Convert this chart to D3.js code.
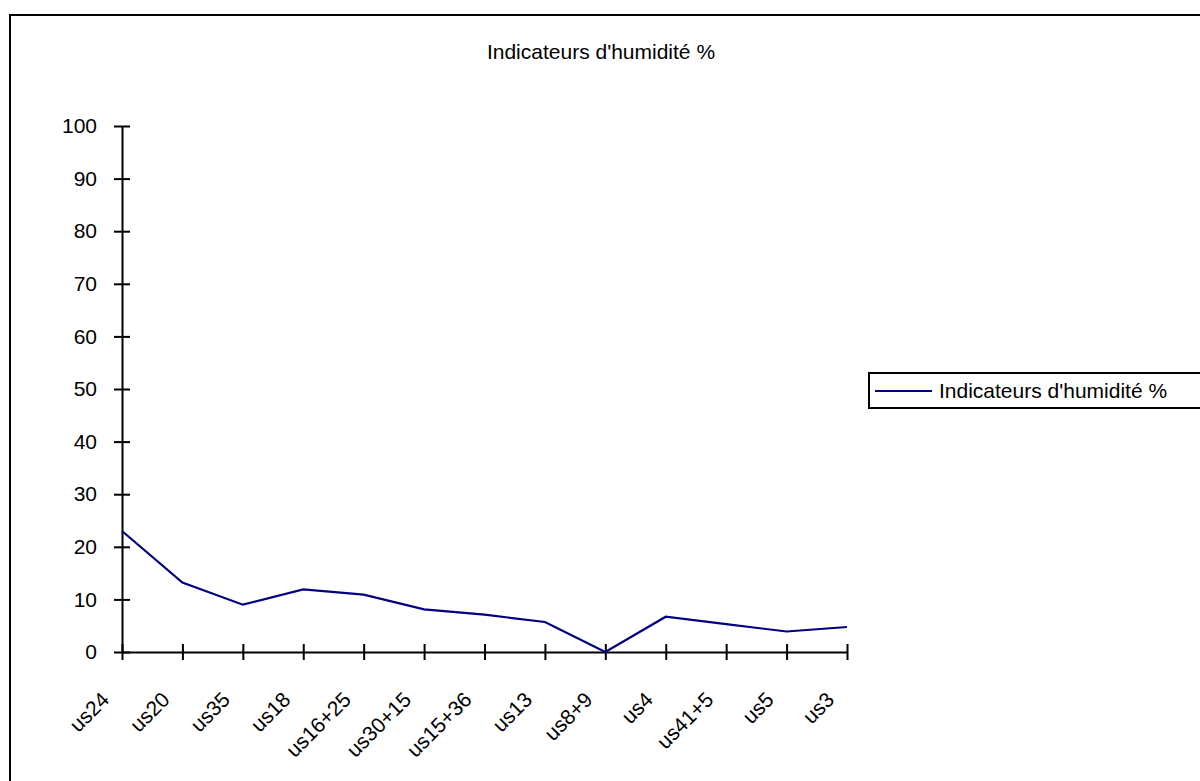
<!DOCTYPE html>
<html>
<head>
<meta charset="utf-8">
<script src="https://cdn.jsdelivr.net/npm/d3@7"></script>
<style>
  body { margin: 0; background: #fff; }
  svg { display: block; font-family: "Liberation Sans", Arial, sans-serif; }
</style>
</head>
<body>
<svg id="chart" width="1200" height="781"></svg>
<script>
const categories = ["us24", "us20", "us35", "us18", "us16+25", "us30+15", "us15+36", "us13", "us8+9", "us4", "us41+5", "us5", "us3"];
const humidity = [23.0, 13.2, 9.0, 11.9, 10.9, 8.1, 7.1, 5.7, 0, 6.7, 5.3, 3.9, 4.75];
const yTicks = [0, 10, 20, 30, 40, 50, 60, 70, 80, 90, 100];
const title = "Indicateurs d'humidité %";

const svg = d3.select("#chart");

// frame (only top and left edges are visible in the picture)
svg.append("rect")
    .attr("x", 10).attr("y", 15)
    .attr("width", 1300).attr("height", 900)
    .attr("fill", "none")
    .attr("stroke", "#000")
    .attr("stroke-width", 2);

const x = d3.scalePoint()
    .domain(categories)
    .range([122, 847]);

const y = d3.scaleLinear()
    .domain([0, 100])
    .range([652, 126]);

svg.append("text")
    .attr("x", 601)
    .attr("y", 59)
    .attr("text-anchor", "middle")
    .style("font-size", "21px")
    .text(title);

// y axis
const yAxis = svg.append("g")
    .attr("transform", "translate(122,0)")
    .call(d3.axisLeft(y).tickValues(yTicks).tickSize(8).tickPadding(17).tickSizeOuter(0));
yAxis.select(".domain").attr("stroke-width", 2);
yAxis.selectAll(".tick line").attr("x1", -8).attr("x2", 8).attr("stroke-width", 2);
yAxis.selectAll(".tick text")
    .style("font-size", "21px")
    .style("font-family", "'Liberation Sans', Arial, sans-serif")
    .attr("fill", "#000");

// x axis
const xAxis = svg.append("g")
    .attr("transform", "translate(0,652)")
    .call(d3.axisBottom(x).tickSize(8).tickSizeOuter(0));
xAxis.select(".domain").attr("stroke-width", 2);
xAxis.selectAll(".tick line").attr("y1", -8).attr("y2", 8).attr("stroke-width", 2);
xAxis.selectAll(".tick text")
    .style("font-size", "21px")
    .style("font-family", "'Liberation Sans', Arial, sans-serif")
    .attr("fill", "#000")
    .attr("text-anchor", "end")
    .attr("y", 0)
    .attr("dy", 0)
    .attr("transform", "translate(-12,49) rotate(-45)");

// series line
const line = d3.line()
    .x((d, i) => x(categories[i]))
    .y(d => y(d));

svg.append("path")
    .datum(humidity)
    .attr("d", line)
    .attr("fill", "none")
    .attr("stroke", "#000080")
    .attr("stroke-width", 2.2);

// legend
const legend = svg.append("g").attr("transform", "translate(869,373)");
legend.append("rect")
    .attr("width", 400).attr("height", 35)
    .attr("fill", "#fff")
    .attr("stroke", "#000")
    .attr("stroke-width", 2);
legend.append("line")
    .attr("x1", 6).attr("x2", 63)
    .attr("y1", 18).attr("y2", 18)
    .attr("stroke", "#000080")
    .attr("stroke-width", 2.2);
legend.append("text")
    .attr("x", 70)
    .attr("y", 25)
    .style("font-size", "21px")
    .text(title);
</script>
</body>
</html>
